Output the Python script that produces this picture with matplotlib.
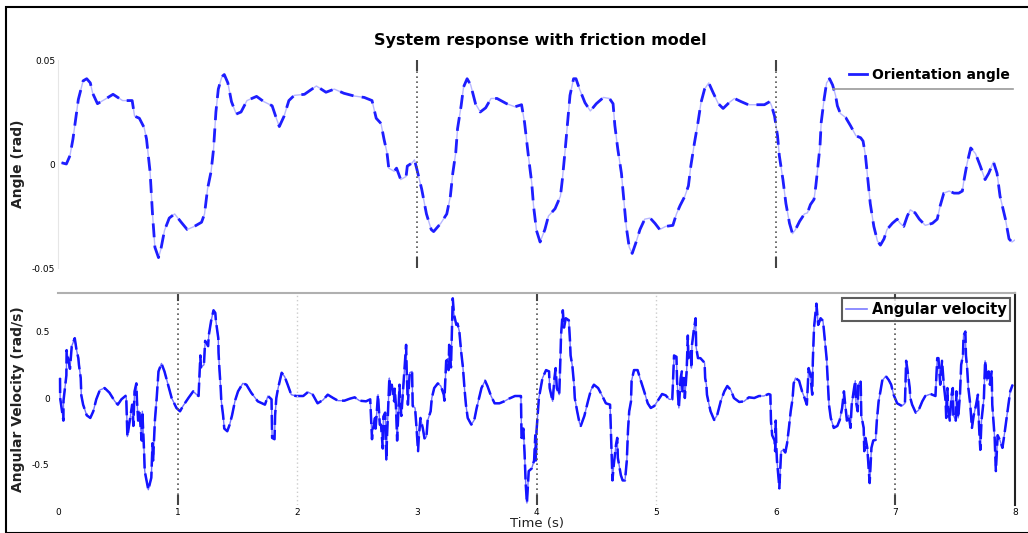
import numpy as np
import matplotlib
matplotlib.use("Agg")
import matplotlib.pyplot as plt
from matplotlib.lines import Line2D
from matplotlib.patches import Rectangle

# Orientation angle (rad)
t_angle = [0.03, 0.07, 0.10, 0.125, 0.17, 0.21, 0.24, 0.27, 0.29, 0.33, 0.39, 0.46, 0.50, 0.54,
           0.62, 0.64, 0.68, 0.72, 0.74, 0.77, 0.79, 0.81, 0.84, 0.86, 0.89, 0.93, 0.975, 1.03,
           1.08, 1.14, 1.20, 1.225, 1.25, 1.28, 1.30, 1.32, 1.34, 1.37, 1.39, 1.42, 1.45, 1.49,
           1.53, 1.58, 1.66, 1.72, 1.79, 1.825, 1.85, 1.89, 1.93, 1.975, 2.06, 2.16, 2.24, 2.31,
           2.39, 2.475, 2.56, 2.625, 2.66, 2.70, 2.725, 2.75, 2.765, 2.81, 2.83, 2.865, 2.91, 2.92,
           2.96, 2.98, 3.00, 3.04, 3.08, 3.12, 3.14, 3.20, 3.25, 3.28, 3.30, 3.325, 3.34, 3.37,
           3.39, 3.42, 3.45, 3.49, 3.53, 3.575, 3.62, 3.67, 3.75, 3.82, 3.875, 3.90, 3.935, 3.96,
           3.975, 4.00, 4.03, 4.07, 4.10, 4.155, 4.20, 4.216, 4.24, 4.26, 4.28, 4.31, 4.33, 4.36,
           4.405, 4.45, 4.50, 4.56, 4.61, 4.64, 4.655, 4.68, 4.71, 4.73, 4.75, 4.775, 4.80, 4.83,
           4.865, 4.905, 4.95, 4.99, 5.03, 5.08, 5.14, 5.17, 5.20, 5.24, 5.27, 5.29, 5.32, 5.35,
           5.375, 5.405, 5.44, 5.475, 5.52, 5.56, 5.61, 5.655, 5.71, 5.77, 5.83, 5.905, 5.95,
           5.965, 5.99, 6.015, 6.03, 6.06, 6.085, 6.115, 6.14, 6.165, 6.20, 6.24, 6.265, 6.29,
           6.32, 6.335, 6.35, 6.37, 6.38, 6.405, 6.425, 6.45, 6.475, 6.50, 6.515, 6.54, 6.585,
           6.625, 6.67, 6.71, 6.73, 6.75, 6.77, 6.79, 6.82, 6.85, 6.875, 6.905, 6.93, 6.975,
           7.015, 7.04, 7.07, 7.10, 7.125, 7.165, 7.20, 7.25, 7.31, 7.35, 7.375, 7.405, 7.45,
           7.49, 7.53, 7.56, 7.57, 7.60, 7.63, 7.67, 7.71, 7.75, 7.78, 7.82, 7.85, 7.875, 7.92,
           7.95, 7.975, 8.00]
angle = [0.0006, 0.0, 0.004, 0.012, 0.031, 0.040, 0.041, 0.039, 0.034, 0.029, 0.031, 0.0335, 0.032,
         0.0305, 0.0305, 0.023, 0.022, 0.0175, 0.012, -0.004, -0.024, -0.040, -0.045, -0.041,
         -0.032, -0.026, -0.024, -0.028, -0.0315, -0.030, -0.028, -0.024, -0.012, -0.0035, 0.007,
         0.025, 0.036, 0.042, 0.043, 0.039, 0.030, 0.024, 0.025, 0.0305, 0.0325, 0.030, 0.028,
         0.022, 0.018, 0.023, 0.0305, 0.033, 0.0335, 0.0375, 0.0345, 0.036, 0.034, 0.0327, 0.032,
         0.0305, 0.022, 0.0195, 0.012, 0.0055, -0.002, -0.0035, -0.002, -0.0075, -0.006, -0.001,
         0.0005, 0.002, -0.0025, -0.012, -0.024, -0.0315, -0.0325, -0.0285, -0.024, -0.0155,
         -0.0045, 0.0055, 0.017, 0.028, 0.037, 0.041, 0.038, 0.029, 0.025, 0.027, 0.0315, 0.0315,
         0.029, 0.0275, 0.0285, 0.020, 0.0025, -0.009, -0.020, -0.032, -0.0375, -0.0315, -0.025,
         -0.0215, -0.0155, -0.0075, 0.007, 0.020, 0.033, 0.041, 0.041, 0.036, 0.0295, 0.0255,
         0.029, 0.032, 0.0315, 0.029, 0.0185, 0.007, -0.0045, -0.017, -0.030, -0.040, -0.043,
         -0.038, -0.0315, -0.0265, -0.026, -0.0285, -0.0315, -0.030, -0.0295, -0.024, -0.020,
         -0.0155, -0.0105, -0.001, 0.010, 0.020, 0.0295, 0.036, 0.039, 0.0345, 0.029, 0.0267,
         0.0295, 0.0315, 0.030, 0.0285, 0.0285, 0.0285, 0.030, 0.028, 0.023, 0.0135, 0.004,
         -0.0075, -0.019, -0.0285, -0.0335, -0.0315, -0.0275, -0.024, -0.0235, -0.0195, -0.017,
         -0.0105, -0.0025, 0.0087, 0.020, 0.0315, 0.039, 0.041, 0.038, 0.033, 0.028, 0.0243,
         0.0223, 0.0184, 0.0136, 0.0126, 0.011, 0.004, -0.0075, -0.019, -0.030, -0.037, -0.039,
         -0.036, -0.0315, -0.0285, -0.0265, -0.0285, -0.030, -0.025, -0.022, -0.0235, -0.0265,
         -0.0295, -0.0285, -0.0265, -0.020, -0.014, -0.013, -0.014, -0.014, -0.013, -0.009,
         0.0005, 0.0077, 0.005, -0.001, -0.0075, -0.0045, 0.001, -0.0045, -0.0155, -0.0265,
         -0.036, -0.0375, -0.0365]

# Angular velocity (rad/s)
t_vel = [0.017, 0.018, 0.045, 0.046, 0.07, 0.072, 0.10, 0.115, 0.14, 0.155, 0.17, 0.175, 0.19, 0.195,
         0.21, 0.24, 0.27, 0.295, 0.32, 0.35, 0.39, 0.43, 0.475, 0.50, 0.53, 0.57, 0.58, 0.62,
         0.63, 0.64, 0.655, 0.66, 0.67, 0.68, 0.70, 0.705, 0.72, 0.725, 0.74, 0.755, 0.78, 0.79,
         0.795, 0.81, 0.825, 0.84, 0.865, 0.89, 0.92, 0.95, 0.99, 1.02, 1.045, 1.09, 1.13, 1.16,
         1.175, 1.19, 1.195, 1.22, 1.23, 1.255, 1.26, 1.28, 1.30, 1.315, 1.32, 1.34, 1.342, 1.35,
         1.36, 1.365, 1.38, 1.39, 1.415, 1.435, 1.455, 1.48, 1.505, 1.545, 1.575, 1.615, 1.67,
         1.73, 1.755, 1.785, 1.79, 1.81, 1.815, 1.825, 1.84, 1.87, 1.895, 1.92, 1.95, 1.99, 2.005,
         2.05, 2.09, 2.13, 2.17, 2.215, 2.255, 2.30, 2.34, 2.395, 2.44, 2.48, 2.52, 2.575, 2.61,
         2.625, 2.63, 2.65, 2.655, 2.675, 2.69, 2.70, 2.715, 2.72, 2.735, 2.745, 2.75, 2.77, 2.775,
         2.79, 2.81, 2.815, 2.825, 2.835, 2.855, 2.86, 2.87, 2.88, 2.895, 2.91, 2.915, 2.925, 2.94,
         2.96, 2.965, 2.985, 2.995, 3.01, 3.015, 3.03, 3.05, 3.065, 3.08, 3.09, 3.115, 3.125,
         3.145, 3.175, 3.20, 3.225, 3.23, 3.245, 3.26, 3.265, 3.27, 3.285, 3.30, 3.31, 3.33, 3.34,
         3.355, 3.37, 3.385, 3.40, 3.41, 3.425, 3.455, 3.48, 3.50, 3.52, 3.54, 3.57, 3.59, 3.62,
         3.65, 3.69, 3.73, 3.77, 3.82, 3.87, 3.875, 3.89, 3.90, 3.91, 3.92, 3.935, 3.96, 3.98,
         3.99, 3.995, 4.0, 4.01, 4.02, 4.04, 4.05, 4.08, 4.105, 4.11, 4.135, 4.15, 4.16, 4.17,
         4.19, 4.20, 4.205, 4.22, 4.23, 4.245, 4.27, 4.28, 4.285, 4.30, 4.315, 4.32, 4.34, 4.36,
         4.37, 4.40, 4.43, 4.455, 4.48, 4.515, 4.55, 4.58, 4.615, 4.625, 4.635, 4.645, 4.665,
         4.675, 4.68, 4.705, 4.72, 4.74, 4.755, 4.765, 4.775, 4.79, 4.795, 4.815, 4.845, 4.87,
         4.90, 4.93, 4.955, 4.985, 5.01, 5.05, 5.08, 5.11, 5.135, 5.15, 5.17, 5.175, 5.19, 5.205,
         5.215, 5.22, 5.235, 5.24, 5.255, 5.265, 5.27, 5.29, 5.295, 5.30, 5.315, 5.33, 5.335,
         5.35, 5.37, 5.405, 5.41, 5.42, 5.425, 5.44, 5.455, 5.485, 5.51, 5.54, 5.57, 5.595, 5.625,
         5.65, 5.695, 5.735, 5.775, 5.82, 5.86, 5.90, 5.94, 5.955, 5.96, 5.97, 5.99, 5.995, 6.0,
         6.005, 6.01, 6.025, 6.03, 6.045, 6.065, 6.08, 6.095, 6.11, 6.125, 6.14, 6.15, 6.165,
         6.195, 6.22, 6.235, 6.26, 6.275, 6.29, 6.305, 6.31, 6.32, 6.34, 6.355, 6.375, 6.395,
         6.41, 6.425, 6.435, 6.445, 6.46, 6.485, 6.515, 6.535, 6.555, 6.57, 6.575, 6.595, 6.61,
         6.625, 6.635, 6.655, 6.665, 6.67, 6.685, 6.69, 6.71, 6.715, 6.735, 6.74, 6.75, 6.765,
         6.78, 6.785, 6.80, 6.815, 6.835, 6.845, 6.86, 6.875, 6.89, 6.92, 6.945, 6.965, 6.985,
         7.015, 7.055, 7.08, 7.09, 7.10, 7.12, 7.125, 7.14, 7.17, 7.195, 7.225, 7.25, 7.295,
         7.335, 7.35, 7.36, 7.375, 7.39, 7.405, 7.42, 7.425, 7.435, 7.44, 7.455, 7.47, 7.48,
         7.485, 7.505, 7.51, 7.525, 7.54, 7.55, 7.565, 7.57, 7.585, 7.59, 7.60, 7.61, 7.625,
         7.64, 7.655, 7.675, 7.69, 7.70, 7.71, 7.72, 7.74, 7.75, 7.765, 7.78, 7.79, 7.805, 7.81,
         7.82, 7.83, 7.84, 7.855, 7.875, 7.895, 7.915, 7.93, 7.945, 7.96, 7.98]
vel = [0.15, 0.0, -0.17, -0.02, 0.17, 0.36, 0.22, 0.39, 0.45, 0.36, 0.30, 0.25, 0.15, 0.02, -0.05,
       -0.13, -0.15, -0.10, -0.01, 0.06, 0.075, 0.04, -0.025, -0.05, -0.01, 0.02, -0.29, -0.05,
       -0.21, 0.05, 0.11, -0.02, -0.17, -0.10, -0.32, -0.10, -0.41, -0.55, -0.62, -0.69, -0.60,
       -0.34, -0.47, -0.17, 0.0, 0.20, 0.26, 0.20, 0.10, 0.0, -0.075, -0.10, -0.06, 0.0, 0.05,
       0.025, 0.015, 0.32, 0.23, 0.25, 0.43, 0.39, 0.47, 0.58, 0.66, 0.64, 0.58, 0.45, 0.34,
       0.21, 0.075, -0.02, -0.13, -0.23, -0.25, -0.20, -0.13, -0.02, 0.05, 0.11, 0.10, 0.04,
       -0.025, -0.05, 0.015, -0.01, -0.30, -0.31, -0.13, 0.0, 0.075, 0.19, 0.16, 0.10, 0.025,
       0.015, 0.015, 0.015, 0.045, 0.025, -0.04, -0.015, 0.025, 0.0, -0.02, -0.02, -0.005, 0.005,
       -0.02, -0.025, -0.01, -0.31, -0.25, -0.15, -0.23, 0.025, -0.20, -0.20, -0.38, -0.14,
       -0.11, -0.47, -0.30, 0.15, 0.025, 0.10, -0.025, 0.07, -0.06, -0.32, 0.10, -0.05, -0.135,
       0.0, 0.20, 0.40, 0.20, -0.05, 0.19, 0.20, -0.06, -0.075, -0.20, -0.40, -0.31, -0.15,
       -0.23, -0.31, -0.29, -0.17, -0.10, 0.0, 0.075, 0.11, 0.09, 0.025, -0.02, 0.28, 0.29, 0.21,
       0.40, 0.23, 0.75, 0.63, 0.55, 0.56, 0.50, 0.35, 0.23, 0.05, -0.05, -0.15, -0.20, -0.165,
       -0.075, 0.0, 0.075, 0.13, 0.09, 0.015, -0.04, -0.04, -0.025, -0.005, 0.015, 0.015, -0.30,
       -0.23, -0.41, -0.65, -0.79, -0.55, -0.53, -0.47, -0.28, -0.47, -0.25, -0.13, 0.0, 0.10,
       0.15, 0.21, 0.20, 0.075, -0.025, 0.15, 0.225, 0.075, 0.025, 0.30, 0.47, 0.66, 0.53, 0.60,
       0.585, 0.43, 0.32, 0.24, 0.09, 0.0, -0.10, -0.19, -0.21, -0.135, -0.025, 0.06, 0.10,
       0.075, 0.015, -0.04, -0.05, -0.34, -0.62, -0.51, -0.35, -0.30, -0.45, -0.58, -0.62, -0.62,
       -0.47, -0.24, -0.10, -0.025, 0.13, 0.21, 0.21, 0.135, 0.05, -0.04, -0.075, -0.06, -0.025,
       0.03, 0.02, -0.01, -0.01, 0.32, 0.31, 0.13, -0.075, 0.15, 0.20, 0.05, 0.15, 0.0, 0.20,
       0.47, 0.30, 0.35, 0.225, 0.40, 0.51, 0.60, 0.38, 0.30, 0.30, 0.265, 0.15, 0.10, 0.025,
       -0.04, -0.10, -0.165, -0.13, -0.025, 0.05, 0.09, 0.06, 0.0, -0.03, -0.025, 0.005, 0.0,
       0.015, 0.015, 0.03, 0.025, -0.17, -0.28, -0.32, -0.40, -0.17, -0.375, -0.47, -0.62, -0.68,
       -0.40, -0.39, -0.41, -0.34, -0.225, -0.10, -0.01, 0.11, 0.15, 0.13, 0.05, 0.015, -0.05,
       0.225, 0.17, 0.025, 0.28, 0.53, 0.71, 0.55, 0.60, 0.58, 0.44, 0.30, 0.13, -0.05, -0.15,
       -0.225, -0.21, -0.165, -0.075, 0.05, 0.0, -0.17, -0.13, -0.225, -0.05, 0.075, 0.13, -0.025,
       -0.10, 0.10, 0.13, -0.13, -0.225, -0.40, -0.30, -0.375, -0.58, -0.64, -0.375, -0.32,
       -0.315, -0.17, -0.025, 0.05, 0.13, 0.165, 0.135, 0.10, 0.025, -0.04, -0.06, -0.04, 0.28,
       0.22, 0.075, 0.0, -0.05, -0.11, -0.09, -0.025, 0.015, 0.03, 0.015, 0.30, 0.30, 0.10, 0.28,
       0.10, -0.025, -0.15, 0.075, -0.075, -0.17, 0.025, 0.075, -0.13, -0.17, 0.05, -0.15, 0.025,
       0.25, 0.32, 0.47, 0.50, 0.32, 0.225, 0.075, -0.04, -0.225, -0.13, -0.05, 0.025, -0.225,
       -0.39, -0.17, 0.0, 0.28, 0.13, 0.20, 0.10, 0.20, -0.05, -0.17, -0.30, -0.55, -0.28, -0.32,
       -0.375, -0.25, -0.15, -0.05, 0.05, 0.10]

xticks = [0, 1, 2, 3, 4, 5, 6, 7, 8]

fig = plt.figure(figsize=(10.28, 5.33), dpi=100)
plt.rcParams['font.family'] = ['DejaVu Sans']

# outer frame
fig.patches.append(Rectangle((6 / 1028, 0), 1.0, 1 - 7 / 533, transform=fig.transFigure,
                             fill=False, edgecolor='black', linewidth=1.5))

fig.text(540 / 1028, 1 - 40 / 533, 'System response with friction model',
         ha='center', va='center', fontsize=11.5, fontweight='bold')

# --- upper plot: angle ---
ax1 = fig.add_axes([58 / 1028, 1 - 268 / 533, 957 / 1028, 208 / 533])
ax1.plot(t_angle, angle, color='#b8b8ff', lw=1.0)
ax1.plot(t_angle, angle, color='#1e1eff', lw=2.0, dashes=(5, 3))
ax1.set_xlim(0, 8)
ax1.set_ylim(-0.05, 0.05)
ax1.set_yticks([-0.05, 0, 0.05])
ax1.set_yticklabels(['-0.05', '0', '0.05'])
ax1.set_xticks([])
ax1.tick_params(axis='y', length=0, labelsize=6.5, pad=2)
for s in ['top', 'right', 'bottom']:
    ax1.spines[s].set_visible(False)
ax1.spines['left'].set_color('#e6e6e6')
for xv in [3, 6]:
    ax1.axvline(xv, color='#555555', lw=1.2, ls=(0, (1, 2)))
    ax1.plot([xv, xv], [0.05, 0.045], color='#444444', lw=1.5)
    ax1.plot([xv, xv], [-0.05, -0.045], color='#444444', lw=1.5)
ax1.set_ylabel('Angle (rad)', fontsize=10, fontweight='bold', color='#222222')
ax1.yaxis.set_label_coords(-0.034, 0.5)
leg1 = ax1.legend([Line2D([], [], color='#1e1eff', lw=2)], ['Orientation angle'],
                  loc='upper right', bbox_to_anchor=(1.0, 0.99), frameon=False,
                  handlelength=1.3, handletextpad=0.3, borderaxespad=0.0,
                  prop={'weight': 'bold', 'size': 10})
ax1.plot([0.81, 0.998], [0.862, 0.862], transform=ax1.transAxes, color='#9a9a9a', lw=1.2)

# --- lower plot: angular velocity ---
ax2 = fig.add_axes([58 / 1028, 1 - 505 / 533, 957 / 1028, 212 / 533])
ax2.plot(t_vel, vel, color='#7070ff', lw=1.0)
ax2.plot(t_vel, vel, color='#1414ff', lw=1.8, dashes=(6, 2))
ax2.set_xlim(0, 8)
ax2.set_ylim(-0.805, 0.79)
ax2.set_yticks([-0.5, 0, 0.5])
ax2.set_yticklabels(['-0.5', '0', '0.5'])
ax2.set_xticks(xticks)
ax2.set_xticklabels([str(v) for v in xticks])
ax2.tick_params(axis='both', length=0, labelsize=6.5)
ax2.tick_params(axis='y', pad=6)
ax2.tick_params(axis='x', pad=2)
ax2.spines['left'].set_visible(False)
ax2.spines['bottom'].set_visible(False)
ax2.spines['top'].set_color('#b0b0b0')
ax2.spines['top'].set_linewidth(1.5)
ax2.spines['right'].set_color('#222222')
ax2.spines['right'].set_linewidth(1.5)
for xv in [1, 4, 7]:
    ax2.axvline(xv, color='#555555', lw=1.2, ls=(0, (1, 2)))
    ax2.plot([xv, xv], [0.79, 0.74], color='#444444', lw=1.5)
    ax2.plot([xv, xv], [-0.805, -0.74], color='#444444', lw=1.5)
for xv in [2, 5]:
    ax2.axvline(xv, color='#cccccc', lw=1.0, ls=(0, (1, 2)))
ax2.set_ylabel('Angular Velocity (rad/s)', fontsize=10, fontweight='bold', color='#222222')
ax2.yaxis.set_label_coords(-0.034, 0.5)
ax2.set_xlabel('Time (s)', fontsize=9.5, color='#222222')
ax2.xaxis.set_label_coords(0.5, -0.058)
ax2.xaxis.label.set_va('top')
leg2 = ax2.legend([Line2D([], [], color='#7a7aff', lw=1.2)], ['Angular velocity'],
                  loc='upper right', bbox_to_anchor=(0.995, 0.975), frameon=True,
                  fancybox=False, handlelength=1.5, handletextpad=0.3, borderpad=0.25,
                  borderaxespad=0.0, prop={'weight': 'bold', 'size': 10.5})
leg2.get_frame().set_edgecolor('#333333')
leg2.get_frame().set_linewidth(1.5)

fig.savefig('out.png', dpi=100)
